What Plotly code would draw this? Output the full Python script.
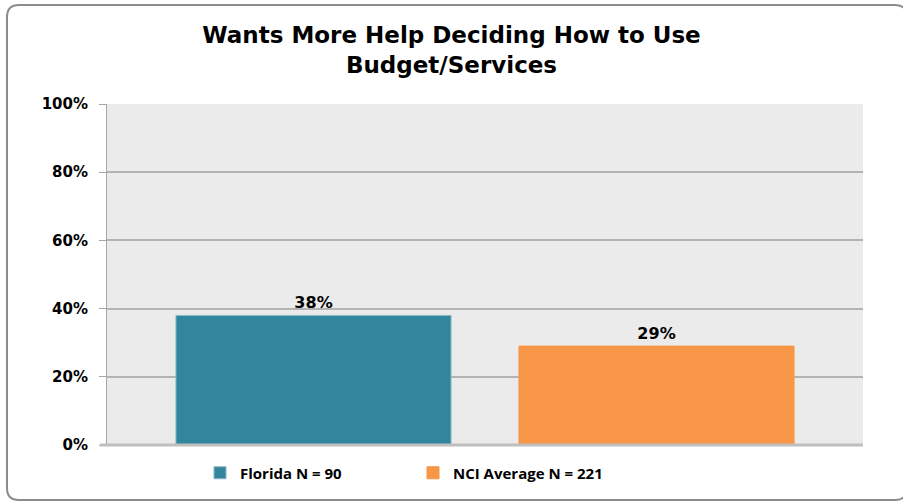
import plotly.graph_objects as go

series_names = ["Florida N = 90", "NCI Average N = 221"]
values = [0.38, 0.29]
labels = ["38%", "29%"]
colors = ["#31859c", "#f79646"]
outlines = ["#8db9c6", "#f79646"]
category = [""]
y_ticks = [0, 0.2, 0.4, 0.6, 0.8, 1.0]

fig = go.Figure()
for name, v, lab, c, oc in zip(series_names, values, labels, colors, outlines):
    fig.add_trace(go.Bar(
        x=category, y=[v], name=name, text=[lab], textposition="outside",
        marker=dict(color=c, line=dict(color=oc, width=1)),
        textfont=dict(family="DejaVu Sans", size=16, color="#000000", weight="bold"),
        cliponaxis=False,
    ))

W, H = 903, 502
L, R, T, B = 107, 40, 104, 57
pw, ph = W - L - R, H - T - B

def px2paper_x(px):
    return (px - L) / pw

def px2paper_y(py):
    return (H - B - py) / ph

x0, y0, x1, y1, r = 7, 5, 907, 500, 12
path = (
    f"M {px2paper_x(x0 + r)},{px2paper_y(y0)} "
    f"L {px2paper_x(x1 - r)},{px2paper_y(y0)} "
    f"Q {px2paper_x(x1)},{px2paper_y(y0)} {px2paper_x(x1)},{px2paper_y(y0 + r)} "
    f"L {px2paper_x(x1)},{px2paper_y(y1 - r)} "
    f"Q {px2paper_x(x1)},{px2paper_y(y1)} {px2paper_x(x1 - r)},{px2paper_y(y1)} "
    f"L {px2paper_x(x0 + r)},{px2paper_y(y1)} "
    f"Q {px2paper_x(x0)},{px2paper_y(y1)} {px2paper_x(x0)},{px2paper_y(y1 - r)} "
    f"L {px2paper_x(x0)},{px2paper_y(y0 + r)} "
    f"Q {px2paper_x(x0)},{px2paper_y(y0)} {px2paper_x(x0 + r)},{px2paper_y(y0)} Z"
)

fig.update_layout(
    width=W, height=H,
    margin=dict(l=L, r=R, t=T, b=B, pad=0, autoexpand=False),
    paper_bgcolor="#ffffff",
    plot_bgcolor="#ebebeb",
    barmode="group",
    bargap=0.0926,
    bargroupgap=0.198,
    title=dict(
        text="Wants More Help Deciding How to Use<br>Budget/Services",
        x=0.5, xanchor="center", y=0.914, yanchor="middle",
        font=dict(family="DejaVu Sans", size=23, color="#000000", weight="bold"),
    ),
    showlegend=True,
    legend=dict(
        orientation="h", x=px2paper_x(200), xanchor="left", y=px2paper_y(473), yanchor="middle",
        font=dict(family="Open Sans", size=15, color="#000000", weight="bold"),
        itemwidth=30, traceorder="normal", entrywidth=168,
        bgcolor="rgba(0,0,0,0)",
    ),
    xaxis=dict(
        showticklabels=False, showgrid=False, zeroline=False,
        showline=False, ticks="",
    ),
    yaxis=dict(
        range=[0, 1], tickvals=y_ticks, tickformat=".0%",
        showgrid=True, gridcolor="#b3b3b3", gridwidth=1.5,
        zeroline=False, showline=True, linecolor="#a6a6a6", linewidth=1,
        ticks="outside", ticklen=7, tickcolor="#a6a6a6", ticklabelstandoff=8,
        tickfont=dict(family="DejaVu Sans", size=15, color="#000000", weight="bold"),
    ),
    shapes=[
        dict(type="line", xref="paper", yref="paper", x0=px2paper_x(100), x1=1,
             y0=0, y1=0, line=dict(color="#bfbfbf", width=3), layer="above"),
        dict(type="path", xref="paper", yref="paper", path=path,
             line=dict(color="#8c8c8c", width=2), fillcolor="rgba(0,0,0,0)"),
    ],
)

fig.write_html("out.html", config={"displayModeBar": False},
               post_script="document.body.style.margin='0';")
